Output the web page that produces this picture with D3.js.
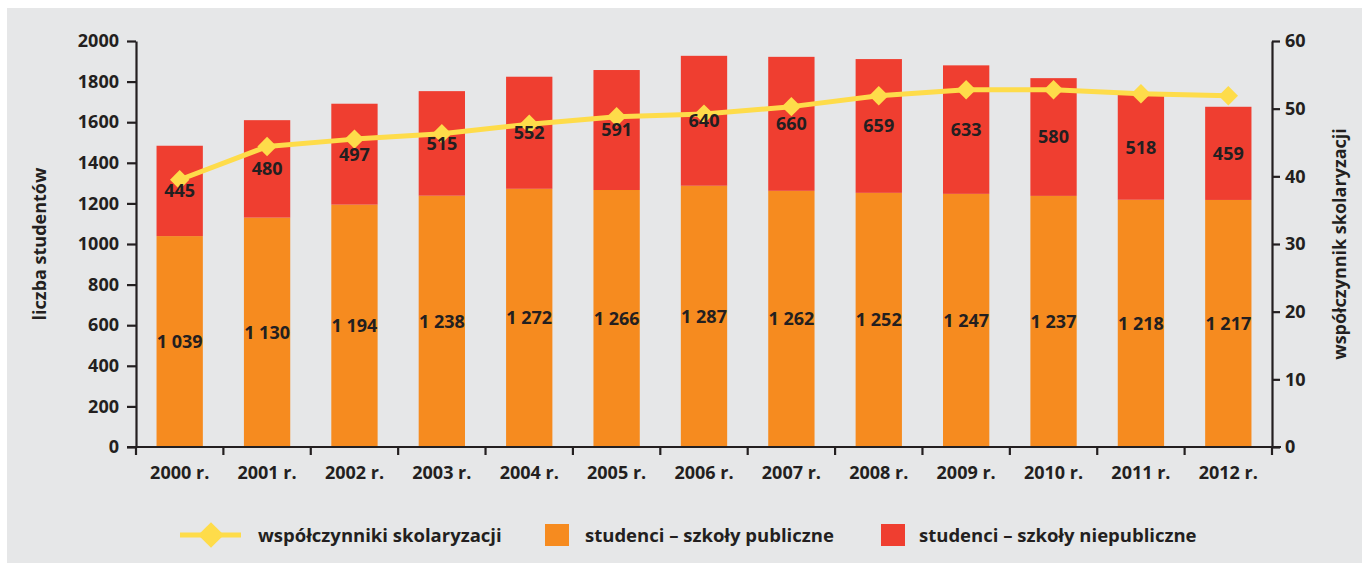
<!DOCTYPE html>
<html><head><meta charset="utf-8">
<script src="https://cdn.jsdelivr.net/npm/d3@7"></script>
<style>
html,body{margin:0;padding:0;background:#fff;}
svg{display:block;font-family:"Open Sans",sans-serif;}
</style></head><body>
<svg id="c" width="1362" height="563"></svg>
<script>
const years = ["2000 r.","2001 r.","2002 r.","2003 r.","2004 r.","2005 r.","2006 r.","2007 r.","2008 r.","2009 r.","2010 r.","2011 r.","2012 r."];
const publicStudents = [1039,1130,1194,1238,1272,1266,1287,1262,1252,1247,1237,1218,1217];
const privateStudents = [445,480,497,515,552,591,640,660,659,633,580,518,459];
const enrolmentRatio = [39.5,44.4,45.5,46.3,47.7,48.8,49.2,50.3,51.9,52.8,52.8,52.2,51.9];
const leftTicks = [0,200,400,600,800,1000,1200,1400,1600,1800,2000];
const rightTicks = [0,10,20,30,40,50,60];
const fmt = v => String(v).replace(/\B(?=(\d{3})+(?!\d))/g, " ");

const C = {bg:"#e6e7e8", pub:"#f68b1f", priv:"#ef3e30", line:"#fedc4a", ink:"#231f20"};
const FS = 18, FL = 18.5, FW = 700;
const svg = d3.select("#c");
svg.append("rect").attr("x",7).attr("y",8).attr("width",1355).attr("height",555).attr("fill",C.bg);

const L = 136, R = 1272, T = 41, B = 447;
const x = d3.scaleBand().domain(years).range([L,R]).paddingInner(0.47).paddingOuter(0.235);
const step = x.step();
const yL = d3.scaleLinear().domain([0,2000]).range([B,T]);
const yR = d3.scaleLinear().domain([0,60]).range([B,T]);

const data = years.map((y,i)=>({y, pub:publicStudents[i], priv:privateStudents[i], r:enrolmentRatio[i]}));

// bars
const g = svg.append("g");
g.selectAll(".pub").data(data).join("rect")
  .attr("x",d=>x(d.y)).attr("width",x.bandwidth())
  .attr("y",d=>yL(d.pub)).attr("height",d=>B-yL(d.pub)).attr("fill",C.pub);
g.selectAll(".priv").data(data).join("rect")
  .attr("x",d=>x(d.y)).attr("width",x.bandwidth())
  .attr("y",d=>yL(d.pub+d.priv)).attr("height",d=>yL(d.pub)-yL(d.pub+d.priv)).attr("fill",C.priv);

// line
const cx = d => x(d.y)+x.bandwidth()/2;
svg.append("path").datum(data)
  .attr("d",d3.line().x(cx).y(d=>yR(d.r)))
  .attr("fill","none").attr("stroke",C.line).attr("stroke-width",5).attr("stroke-linejoin","round");
const diamond = d3.symbol().type(d3.symbolDiamond2).size(240);
svg.selectAll(".dm").data(data).join("path")
  .attr("transform",d=>`translate(${cx(d)},${yR(d.r)})`)
  .attr("d",diamond).attr("fill",C.line);

// labels
const lab = svg.append("g").attr("font-size",FS).attr("font-weight",FW).attr("fill",C.ink).attr("text-anchor","middle");
lab.selectAll(".lp").data(data).join("text")
  .attr("x",cx).attr("y",d=>(yL(d.pub)+B)/2).attr("dy","0.36em").text(d=>fmt(d.pub));
lab.selectAll(".lr").data(data).join("text")
  .attr("x",cx).attr("y",d=>(yL(d.pub)+yL(d.pub+d.priv))/2).attr("dy","0.36em").text(d=>d.priv);

// axes
function styleAxis(sel){
  sel.selectAll("path,line").attr("stroke",C.ink).attr("stroke-width",2.2);
  sel.selectAll("text").attr("font-size",FS).attr("font-weight",FW).attr("fill",C.ink).attr("font-family","Open Sans, sans-serif");
}
const ax = svg.append("g").attr("transform",`translate(${L-9},0)`)
  .call(d3.axisLeft(yL).tickValues(leftTicks).tickFormat(d3.format("d")).tickSize(0).tickPadding(8).tickSizeOuter(0));
ax.select(".domain").remove();
styleAxis(ax);
ax.selectAll(".tick line").remove();
const axl = svg.append("g").attr("transform",`translate(${L},0)`)
  .call(d3.axisLeft(yL).tickValues(leftTicks).tickSize(9).tickFormat("").tickSizeOuter(0));
styleAxis(axl);

const axr = svg.append("g").attr("transform",`translate(${R},0)`)
  .call(d3.axisRight(yR).tickValues(rightTicks).tickSize(8).tickPadding(5).tickSizeOuter(0));
styleAxis(axr);

// x axis
const xb = svg.append("g").attr("transform",`translate(0,${B})`);
xb.append("line").attr("x1",L-9).attr("x2",R+9).attr("stroke",C.ink).attr("stroke-width",2.2);
const sep = d3.range(years.length+1).map(i=>L+i*step);
xb.selectAll(".sep").data(sep).join("line")
  .attr("x1",d=>d).attr("x2",d=>d).attr("y1",0).attr("y2",8).attr("stroke",C.ink).attr("stroke-width",2.2);
xb.selectAll(".xl").data(years).join("text")
  .attr("x",d=>x(d)+x.bandwidth()/2).attr("y",26).attr("dy","0.36em")
  .attr("text-anchor","middle").attr("font-size",FS).attr("font-weight",FW).attr("fill",C.ink).text(d=>d);

// axis titles
svg.append("text").attr("transform",`translate(46,244) rotate(-90)`).attr("text-anchor","middle")
  .attr("font-size",FS).attr("font-weight",FW).attr("fill",C.ink).text("liczba studentów");
svg.append("text").attr("transform",`translate(1346,244) rotate(-90)`).attr("text-anchor","middle")
  .attr("font-size",FS).attr("font-weight",FW).attr("fill",C.ink).text("współczynnik skolaryzacji");

// legend
const lg = svg.append("g").attr("font-size",FL).attr("font-weight",FW).attr("fill",C.ink);
lg.append("line").attr("x1",180).attr("x2",241).attr("y1",535).attr("y2",535).attr("stroke",C.line).attr("stroke-width",5);
lg.append("path").attr("transform","translate(211,535)").attr("d",d3.symbol().type(d3.symbolDiamond2).size(420)).attr("fill",C.line);
lg.append("text").attr("x",258).attr("y",535).attr("dy","0.36em").text("współczynniki skolaryzacji");
lg.append("rect").attr("x",545).attr("y",524).attr("width",24).attr("height",22).attr("fill",C.pub);
lg.append("text").attr("x",585).attr("y",535).attr("dy","0.36em").text("studenci – szkoły publiczne");
lg.append("rect").attr("x",881).attr("y",524).attr("width",24).attr("height",22).attr("fill",C.priv);
lg.append("text").attr("x",919).attr("y",535).attr("dy","0.36em").text("studenci – szkoły niepubliczne");
</script>
</body></html>
